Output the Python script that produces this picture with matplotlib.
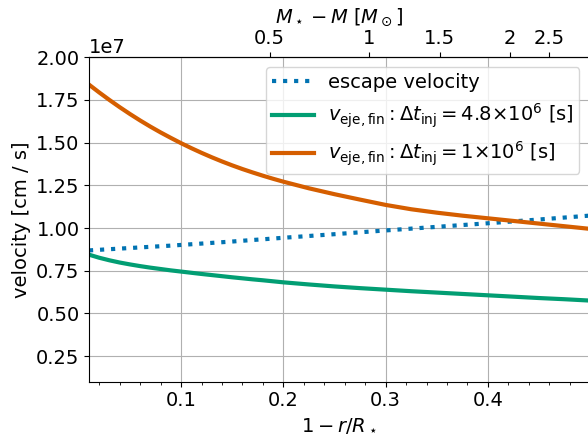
import numpy as np
import matplotlib
matplotlib.use("Agg")
import matplotlib.pyplot as plt
from matplotlib.ticker import AutoMinorLocator, MultipleLocator

plt.rcParams["font.size"] = 14

# depth below the surface, 1 - r/R_star
depth = [0.01, 0.02, 0.03, 0.04, 0.05, 0.06, 0.07, 0.08, 0.09, 0.10,
         0.11, 0.12, 0.13, 0.14, 0.15, 0.16, 0.17, 0.18, 0.19, 0.20,
         0.225, 0.25, 0.275, 0.30, 0.325, 0.35, 0.375, 0.40,
         0.425, 0.45, 0.475, 0.50]

# velocities in units of 1e7 cm/s
v_escape = [0.869, 0.8725, 0.876, 0.8795, 0.883, 0.8865, 0.890, 0.8935, 0.897, 0.901,
            0.905, 0.909, 0.913, 0.917, 0.921, 0.9255, 0.930, 0.934, 0.9385, 0.943,
            0.9535, 0.964, 0.975, 0.986, 0.9965, 1.007, 1.0175, 1.028,
            1.039, 1.050, 1.0615, 1.073]
v_ej_long = [0.844, 0.826, 0.811, 0.798, 0.787, 0.777, 0.768, 0.760, 0.752, 0.745,
             0.738, 0.731, 0.7245, 0.718, 0.7115, 0.7055, 0.6995, 0.694, 0.688, 0.682,
             0.6695, 0.658, 0.648, 0.639, 0.630, 0.622, 0.614, 0.606,
             0.598, 0.590, 0.583, 0.575]
v_ej_short = [1.840, 1.794, 1.750, 1.708, 1.668, 1.630, 1.594, 1.560, 1.528, 1.497,
              1.468, 1.4405, 1.4145, 1.390, 1.367, 1.3455, 1.3255, 1.3065, 1.2885, 1.2715,
              1.2327, 1.1982, 1.1664, 1.1354, 1.110, 1.090, 1.0725, 1.057,
              1.0415, 1.026, 1.0105, 0.995]

# enclosed mass above a given depth, M_star - M [M_sun]
mass_depth = [0.0, 0.05, 0.10, 0.1866, 0.2837, 0.3528, 0.4212, 0.4597, 0.50]
mass_above = [0.0, 0.10, 0.22, 0.5, 1.0, 1.5, 2.0, 2.5, 2.9]
mass_ticks = [0.5, 1, 1.5, 2, 2.5]
mass_ticklabels = ["0.5", "1", "1.5", "2", "2.5"]

scale = 1e7
c_blue, c_green, c_orange = "#0173b2", "#029e73", "#d55e00"

fig = plt.figure(figsize=(5.88, 4.37), dpi=100)
ax = fig.add_axes([89.3 / 588, (437 - 381.7) / 437, 499.9 / 588, (381.7 - 57.3) / 437])

ax.plot(depth, np.array(v_escape) * scale, ls=":", lw=3, color=c_blue,
        label="escape velocity")
ax.plot(depth, np.array(v_ej_long) * scale, lw=3, color=c_green,
        label=r"$v_{\rm eje,fin}: \Delta t_{\rm inj} = 4.8{\times}10^6$ [s]")
ax.plot(depth, np.array(v_ej_short) * scale, lw=3, color=c_orange,
        label=r"$v_{\rm eje,fin}: \Delta t_{\rm inj} = 1{\times}10^6$ [s]")

ax.set_xlim(0.0103, 0.499)
ax.set_ylim(0.1 * scale, 2.0 * scale)
ax.yaxis.set_major_locator(MultipleLocator(0.25 * scale))
ax.xaxis.set_major_locator(MultipleLocator(0.1))
ax.xaxis.set_minor_locator(AutoMinorLocator())
ax.grid(True, which="major")

ax.set_xlabel(r"$1 - r/R_\star$")
ax.set_ylabel("velocity [cm / s]")


def depth_to_mass(x):
    return np.interp(x, mass_depth, mass_above)


def mass_to_depth(m):
    return np.interp(m, mass_above, mass_depth)


secax = ax.secondary_xaxis("top", functions=(depth_to_mass, mass_to_depth))
secax.set_xticks(mass_ticks, labels=mass_ticklabels)
secax.set_xlabel(r"$M_\star - M\ [M_\odot]$")

ax.legend(loc="upper right", handlelength=2.2, borderpad=0.3, handletextpad=0.7)

fig.savefig("out.png", dpi=100)
